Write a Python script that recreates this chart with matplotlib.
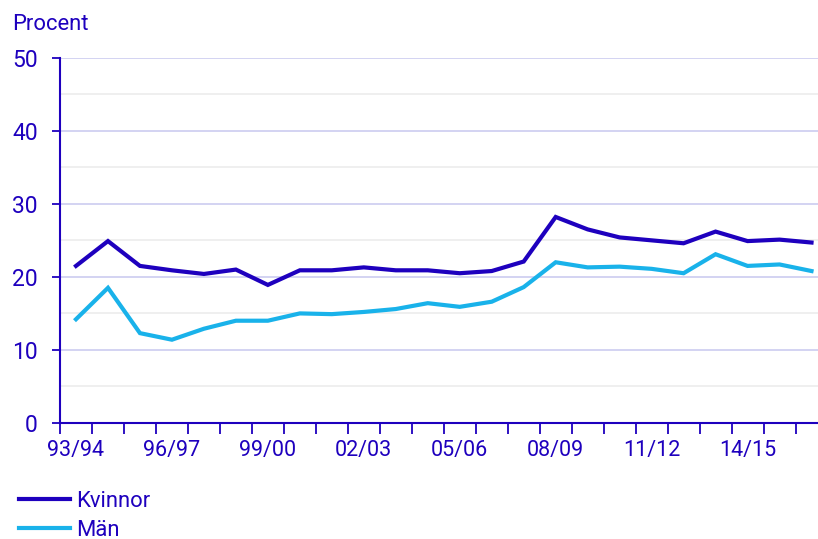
import matplotlib.pyplot as plt
from matplotlib.ticker import MultipleLocator, FixedLocator

# Läsår 93/94 - 16/17
lasar = ["93/94", "94/95", "95/96", "96/97", "97/98", "98/99", "99/00", "00/01",
         "01/02", "02/03", "03/04", "04/05", "05/06", "06/07", "07/08", "08/09",
         "09/10", "10/11", "11/12", "12/13", "13/14", "14/15", "15/16", "16/17"]

kvinnor = [21.5, 24.9, 21.5, 20.9, 20.4, 21.0, 18.9, 20.9, 20.9, 21.3, 20.9, 20.9,
           20.5, 20.8, 22.1, 28.2, 26.5, 25.4, 25.0, 24.6, 26.2, 24.9, 25.1, 24.7]
man = [14.2, 18.5, 12.3, 11.4, 12.9, 14.0, 14.0, 15.0, 14.9, 15.2, 15.6, 16.4,
       15.9, 16.6, 18.6, 22.0, 21.3, 21.4, 21.1, 20.5, 23.1, 21.5, 21.7, 20.8]

MORKBLA = "#1e00be"
LJUSBLA = "#19b2ea"

plt.rcParams["font.family"] = ["Roboto", "DejaVu Sans"]

fig = plt.figure(figsize=(8.18, 5.39), dpi=100)
ax = fig.add_axes([60 / 818, 116 / 539, 767.5 / 818, 365.3 / 539])

x = range(len(lasar))
ax.plot(x, kvinnor, color=MORKBLA, lw=3, solid_joinstyle="miter", label="Kvinnor", zorder=3)
ax.plot(x, man, color=LJUSBLA, lw=3, solid_joinstyle="miter", label="Män", zorder=3)

ax.set_xlim(-0.5, len(lasar) - 0.5)
ax.set_ylim(0, 50)

# stödlinjer: var tionde procent lila, mellan dem ljusgrå
ax.yaxis.set_major_locator(MultipleLocator(10))
ax.yaxis.set_minor_locator(MultipleLocator(5))
ax.grid(axis="y", which="major", color="#d3d3f2", lw=1.4, zorder=0)
ax.grid(axis="y", which="minor", color="#efefef", lw=1.4, zorder=0)
ax.tick_params(axis="y", which="minor", length=0)
ax.tick_params(axis="y", which="major", length=6, width=1.3, color=MORKBLA,
               labelcolor=MORKBLA, labelsize=16.5, pad=10)

# x-axeln: streck mellan kategorierna, etikett var tredje år
ax.xaxis.set_major_locator(FixedLocator(list(range(0, len(lasar), 3))))
ax.set_xticklabels(lasar[::3])
ax.xaxis.set_minor_locator(FixedLocator([i - 0.5 for i in range(len(lasar) + 1)]))
ax.tick_params(axis="x", which="major", length=0, labelcolor=MORKBLA, labelsize=15.5, pad=12)
ax.tick_params(axis="x", which="minor", length=8, width=1.3, color=MORKBLA)

for s in ["top", "right"]:
    ax.spines[s].set_visible(False)
for s in ["left", "bottom"]:
    ax.spines[s].set_color(MORKBLA)
    ax.spines[s].set_linewidth(1.5)

fig.text(12 / 818, 1 - 30 / 539, "Procent", color=MORKBLA, fontsize=15.8, va="baseline")

leg = fig.legend(loc="upper left", bbox_to_anchor=(0.012, 1 - 482 / 539), frameon=False,
                 fontsize=15.8, handlelength=2.35, handletextpad=0.25, labelspacing=0.38,
                 borderaxespad=0)
for t in leg.get_texts():
    t.set_color(MORKBLA)

fig.savefig("out.png", dpi=100)
